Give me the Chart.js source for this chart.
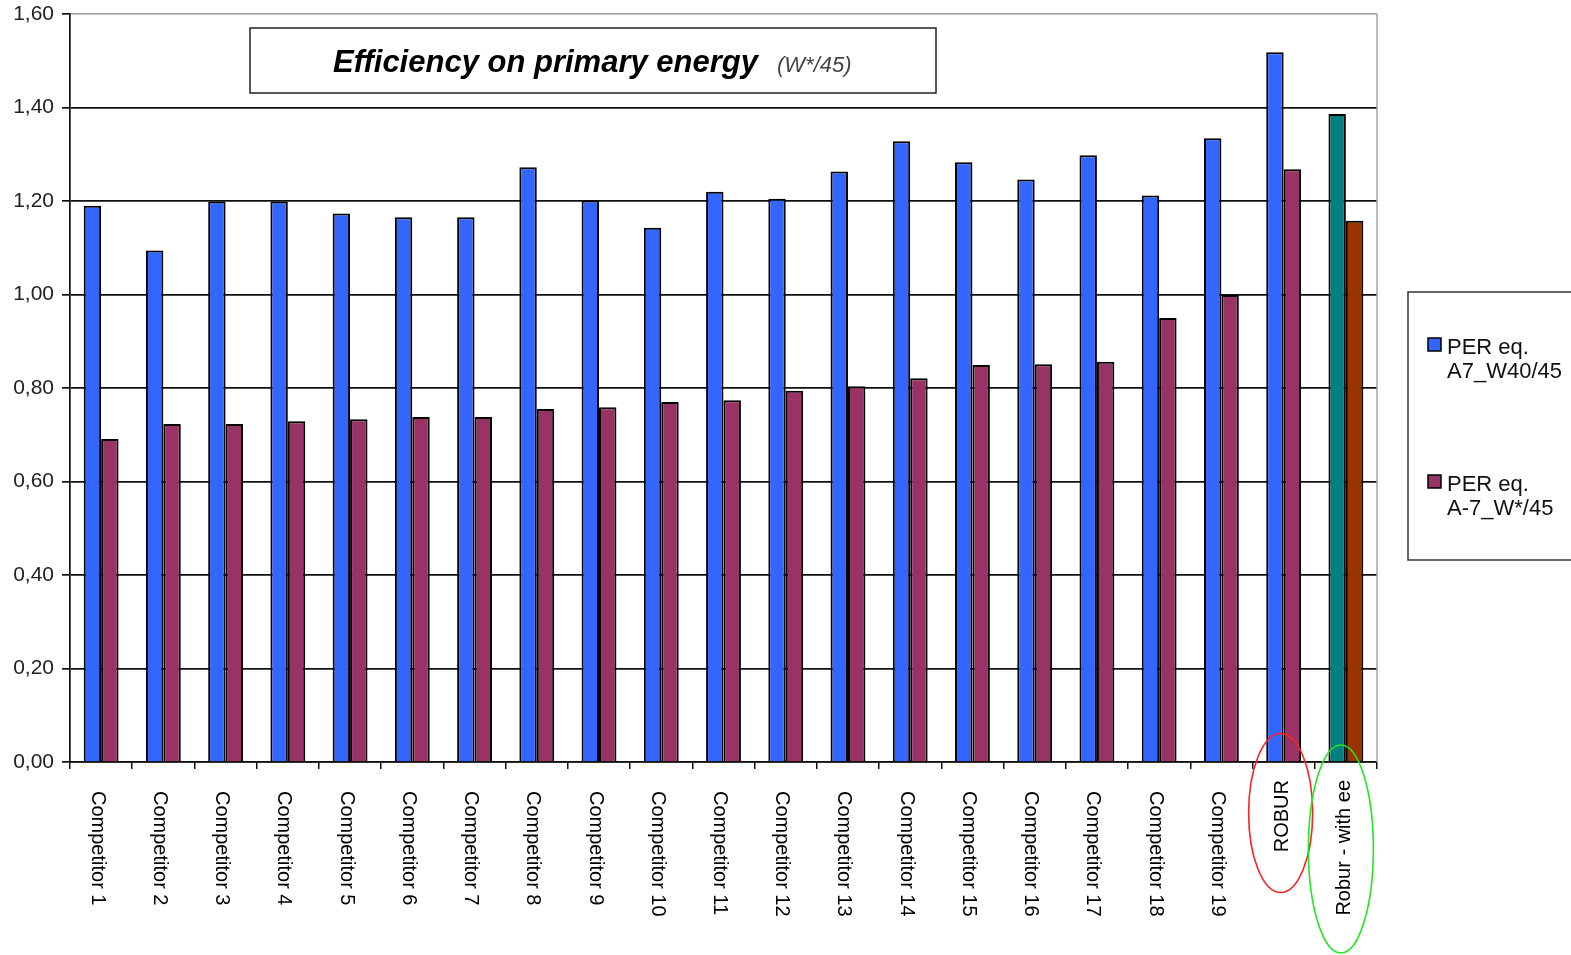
<!DOCTYPE html>
<html>
<head>
<meta charset="utf-8">
<script src="https://cdn.jsdelivr.net/npm/chart.js@4.4.1/dist/chart.umd.min.js"></script>
<style>
html,body{margin:0;padding:0;background:#fff;overflow:hidden;}
#wrap{position:relative;width:1571px;height:955px;}
</style>
</head>
<body>
<div id="wrap"><canvas id="c" width="1571" height="955"></canvas></div>
<script>
const categories = ['Competitor 1','Competitor 2','Competitor 3','Competitor 4','Competitor 5','Competitor 6','Competitor 7','Competitor 8','Competitor 9','Competitor 10','Competitor 11','Competitor 12','Competitor 13','Competitor 14','Competitor 15','Competitor 16','Competitor 17','Competitor 18','Competitor 19','ROBUR','Robur - with ee'];
const perA7W40 = [1.190,1.094,1.199,1.199,1.173,1.165,1.165,1.272,1.201,1.143,1.220,1.205,1.263,1.328,1.283,1.246,1.298,1.212,1.334,1.518,1.386];
const perAm7W = [0.691,0.723,0.723,0.729,0.733,0.738,0.738,0.755,0.759,0.770,0.774,0.794,0.804,0.821,0.849,0.851,0.856,0.950,0.999,1.268,1.158];
const yTicks = [0,0.2,0.4,0.6,0.8,1.0,1.2,1.4,1.6];
const seriesNames = [['PER eq.','A7_W40/45'],['PER eq.','A-7_W*/45']];
const titleMain = 'Efficiency on primary energy';
const titleSub = '(W*/45)';

const BLUE='#3366FF', MAROON='#993366', TEAL='#008080', BROWN='#993300';
const nCat = categories.length;
const blueColors = categories.map((c,i)=> i===nCat-1 ? TEAL : BLUE);
const maroonColors = categories.map((c,i)=> i===nCat-1 ? BROWN : MAROON);

Chart.defaults.font.family = "'Liberation Sans', Arial, sans-serif";
Chart.defaults.color = '#111';

const extras = {
  id: 'extras',
  afterDraw(chart) {
    const ctx = chart.ctx;
    const a = chart.chartArea;
    const xs = chart.scales.x;
    ctx.save();
    // right border (gray)
    ctx.strokeStyle = '#a6a6a6';
    ctx.lineWidth = 1.5;
    ctx.beginPath();
    ctx.moveTo(a.right, a.top);
    ctx.lineTo(a.right, a.bottom);
    ctx.stroke();

    // x labels
    ctx.fillStyle = '#000';
    categories.forEach((lab, i) => {
      const x = xs.getPixelForValue(i);
      ctx.save();
      ctx.font = "20px 'Liberation Sans', Arial, sans-serif";
      ctx.textBaseline = 'middle';
      if (i < nCat - 2) {
        ctx.translate(x - 4, a.bottom + 29);
        ctx.rotate(Math.PI / 2);
        ctx.textAlign = 'left';
      } else {
        ctx.translate(x - 1, a.bottom + 18);
        ctx.rotate(-Math.PI / 2);
        ctx.textAlign = 'right';
      }
      ctx.fillText(lab, 0, 0);
      ctx.restore();
    });

    // ellipses
    const xR = xs.getPixelForValue(nCat - 2);
    const xE = xs.getPixelForValue(nCat - 1);
    ctx.lineWidth = 1.6;
    ctx.strokeStyle = '#ff2020';
    ctx.beginPath();
    ctx.ellipse(xR - 3, a.bottom + 51, 32, 79.5, 0, 0, Math.PI * 2);
    ctx.stroke();
    ctx.strokeStyle = '#22e622';
    ctx.beginPath();
    ctx.ellipse(xE - 5, a.bottom + 87, 32.5, 104, 0, 0, Math.PI * 2);
    ctx.stroke();

    // title box
    ctx.fillStyle = '#fff';
    ctx.fillRect(250, 28, 686, 65);
    ctx.strokeStyle = '#222';
    ctx.lineWidth = 1.5;
    ctx.strokeRect(250, 28, 686, 65);
    ctx.fillStyle = '#000';
    ctx.textBaseline = 'alphabetic';
    ctx.textAlign = 'left';
    ctx.font = "italic bold 31px 'Liberation Sans', Arial, sans-serif";
    ctx.fillText(titleMain, 333, 72);
    ctx.fillStyle = '#444';
    ctx.font = "italic 22px 'Liberation Sans', Arial, sans-serif";
    ctx.fillText(titleSub, 777, 72);

    // legend
    ctx.strokeStyle = '#333';
    ctx.lineWidth = 1.5;
    ctx.strokeRect(1408, 292, 200, 268);
    const legendColors = [BLUE, MAROON];
    const tops = [338, 475];
    ctx.font = "22px 'Liberation Sans', Arial, sans-serif";
    seriesNames.forEach((lines, k) => {
      ctx.fillStyle = legendColors[k];
      ctx.fillRect(1428, tops[k], 13, 13);
      ctx.strokeStyle = '#000';
      ctx.lineWidth = 1.5;
      ctx.strokeRect(1428, tops[k], 13, 13);
      ctx.fillStyle = '#111';
      lines.forEach((t, j) => ctx.fillText(t, 1447, tops[k] + 16 + j * 24));
    });
    ctx.restore();
  }
};

new Chart(document.getElementById('c'), {
  type: 'bar',
  data: {
    labels: categories,
    datasets: [
      { label: seriesNames[0].join(' '), data: perA7W40, backgroundColor: blueColors, borderColor: '#000', borderWidth: 2, borderSkipped: 'start' },
      { label: seriesNames[1].join(' '), data: perAm7W, backgroundColor: maroonColors, borderColor: '#000', borderWidth: 2, borderSkipped: 'start' }
    ]
  },
  options: {
    responsive: false,
    animation: false,
    layout: { padding: { left: 0, right: 194, top: 14, bottom: 0 } },
    plugins: { legend: { display: false }, title: { display: false }, tooltip: { enabled: false } },
    datasets: { bar: { categoryPercentage: 0.56, barPercentage: 1.0 } },
    scales: {
      x: {
        offset: true,
        ticks: { display: false },
        grid: { display: true, drawOnChartArea: false, drawTicks: true, tickLength: 7, offset: true, color: '#111', lineWidth: 1.5 },
        border: { display: true, color: '#111', width: 1.5 },
        afterFit(s) { s.height = 193; s.paddingLeft = 0; s.paddingRight = 0; }
      },
      y: {
        min: 0, max: 1.6,
        afterBuildTicks(s) { s.ticks = yTicks.map(v => ({ value: v })); },
        ticks: {
          padding: 8,
          color: '#222',
          font: { size: 21 },
          callback: (v) => Number(v).toFixed(2).replace('.', ',')
        },
        grid: {
          color: (c) => (c.tick && Math.abs(c.tick.value - 1.6) < 1e-6) ? '#a6a6a6' : '#111',
          tickColor: '#111',
          lineWidth: 1.7,
          tickLength: 8
        },
        border: { display: true, color: '#111', width: 1.7 },
        afterFit(s) { s.width = 70; s.paddingTop = 0; s.paddingBottom = 0; }
      }
    }
  },
  plugins: [extras]
});
</script>
</body>
</html>
